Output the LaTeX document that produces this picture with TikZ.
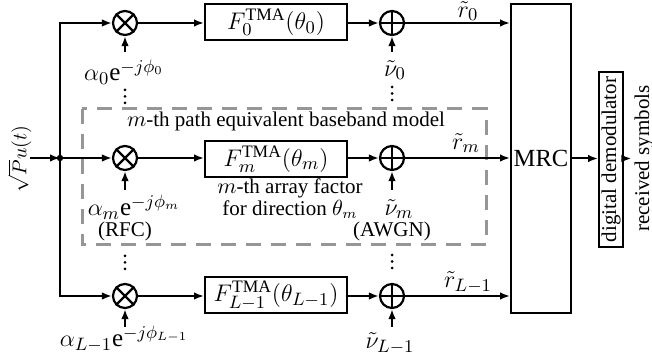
\documentclass[tikz,border=0pt]{standalone}
\usepackage{fontspec}
\setmainfont{Liberation Serif}
\usetikzlibrary{arrows.meta}
\definecolor{dashgray}{RGB}{150,150,150}
\begin{document}
\begin{tikzpicture}[x=0.5pt,y=-0.5pt, line width=1pt,
  >={Latex[length=5pt,width=3.8pt]},
  every node/.style={font=\fontsize{10.5}{12.5}\selectfont, inner sep=0pt},
  mathlbl/.style={font=\fontsize{12.5}{15}\selectfont},
  mult/.style={circle,draw,minimum size=12pt,line width=1.1pt},
  fblock/.style={draw,minimum width=71pt,minimum height=18pt,font=\fontsize{12.5}{15}\selectfont},
  dotmark/.style={fill=black}]
\useasboundingbox (0,0) rectangle (652,362);

% dashed model box
\draw[dashgray, line width=1.5pt, dash pattern=on 7.5pt off 5pt] (82,109) rectangle (486,245);

% multipliers
\node[mult] (m0) at (125,23) {};
\node[mult] (m1) at (125,158) {};
\node[mult] (m2) at (125,296) {};
\foreach \n in {m0,m1,m2}{
  \draw[line width=1.1pt] (\n.north east)--(\n.south west) (\n.north west)--(\n.south east);
}
% adders
\node[mult] (a0) at (392,23) {};
\node[mult] (a1) at (392,158) {};
\node[mult] (a2) at (392,296) {};
\foreach \n in {a0,a1,a2}{
  \draw[line width=1.1pt] (\n.north)--(\n.south) (\n.west)--(\n.east);
}

% F blocks
\node[fblock] (f0) at (276,22.5) {$F_0^{\mathrm{TMA}}(\theta_0)$};
\node[fblock] (f1) at (276,159) {$F_m^{\mathrm{TMA}}(\theta_m)$};
\node[fblock] (f2) at (276,295.5) {$F_{L-1}^{\mathrm{TMA}}(\theta_{L-1})$};

% MRC
\node[draw, minimum width=30pt, minimum height=154.5pt, font=\fontsize{12.3}{14}\selectfont] (mrc) at (541,158.5) {MRC};

% demodulator
\node[draw, rotate=90, minimum width=87.5pt, minimum height=12pt] (dem) at (611,159.5) {digital demodulator};
\node[rotate=90, inner sep=1pt] (rs) at (644,158.5) {received symbols};

% input
\coordinate (in) at (30,158);
\coordinate (j) at (60,158);
\node[rotate=90, font=\fontsize{10}{12}\selectfont] (inlbl) at (19.5,159) {$\sqrt{P}u(t)$};
\draw[->] (in) -- (j);
\fill (j) circle (1.6pt);
\draw[->] (j) -- (m1);
\draw[->] (j) |- (m0);
\draw[->] (j) |- (m2);

% chain arrows
\foreach \i in {0,1,2}{
  \draw[->] (m\i) -- (f\i.west |- m\i);
  \draw[->] (f\i.east |- a\i) -- (a\i);
  \draw[->] (a\i) -- (a\i -| mrc.west);
}
\draw[->] (mrc.east) -- (mrc.east -| dem.north);
\draw[->] (dem.south |- mrc.east) -- (rs.north |- mrc.east);

% vertical input arrows
\coordinate (cm0) at (125,52);
\coordinate (cm1) at (125,190);
\coordinate (cm2) at (125,327);
\coordinate (ca0) at (392,52);
\coordinate (ca1) at (392,190);
\coordinate (ca2) at (392,327);
\foreach \i in {0,1,2}{
  \draw[->] (cm\i) -- (m\i);
  \draw[->] (ca\i) -- (a\i);
}

% labels
\node[mathlbl] (l0) at (124,72) {$\alpha_0\mathrm{e}^{-j\phi_0}$};
\node[mathlbl] (l1) at (134,207) {$\alpha_m\mathrm{e}^{-j\phi_m}$};
\node (rfc) at (125,231) {(RFC)};
\node[mathlbl] (l2) at (124,339) {$\alpha_{L-1}\mathrm{e}^{-j\phi_{L-1}}$};
\node[mathlbl] (n0) at (395,70) {$\tilde{\nu}_0$};
\node[mathlbl] (n1) at (399,209) {$\tilde{\nu}_m$};
\node (awgn) at (392,231) {(AWGN)};
\node[mathlbl] (n2) at (390,343) {$\tilde{\nu}_{L-1}$};
\node[mathlbl] (r0) at (468,11) {$\tilde{r}_0$};
\node[mathlbl] (r1) at (466,143) {$\tilde{r}_m$};
\node[mathlbl] (r2) at (468,282) {$\tilde{r}_{L-1}$};
\node (title) at (286,121) {$m$-th path equivalent baseband model};
\node[align=center, font=\fontsize{10.5}{9.7}\selectfont] (af) at (290,199) {$m$-th array factor\\for direction $\theta_m$};

% dots
\foreach \x/\y in {125/90,125/96.5,125/103, 392/87,392/93.5,392/100, 125/256,125/262.5,125/269, 392/255,392/261.5,392/268}{
  \fill (\x,\y) circle (0.75pt);
}
\end{tikzpicture}
\end{document}
